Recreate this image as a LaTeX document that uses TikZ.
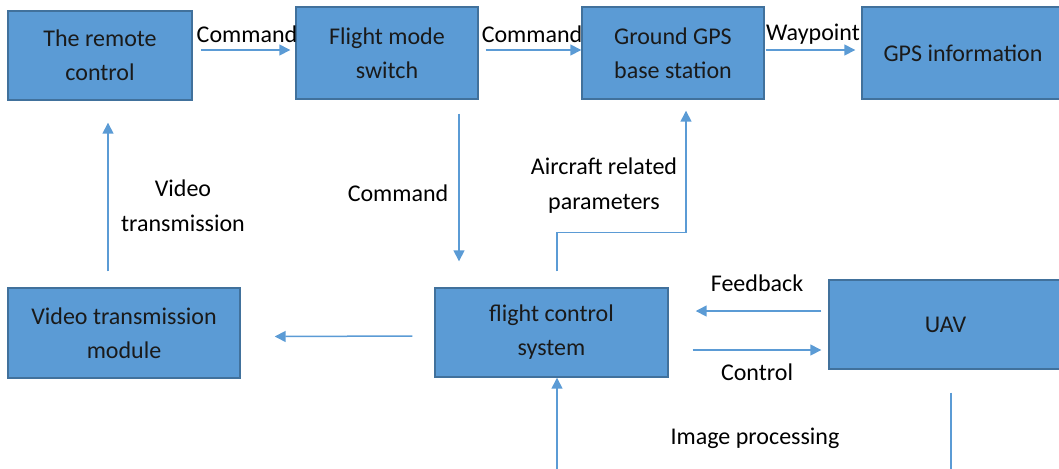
\documentclass[tikz,border=0pt]{standalone}
\usepackage{fontspec}
\setmainfont{Carlito}
\usetikzlibrary{arrows.meta,calc}
\definecolor{boxfill}{HTML}{5B9BD5}
\definecolor{boxline}{HTML}{41719C}
\definecolor{arrcol}{HTML}{5B9BD5}
\definecolor{boxtext}{HTML}{1A1A1A}
\tikzset{
  blk/.style={draw=boxline, fill=boxfill, line width=0.7pt, inner sep=0pt,
    align=center, text=boxtext, font=\fontsize{12}{17}\selectfont},
  arr/.style={draw=arrcol, line width=0.75pt, -{Triangle[length=5.5pt,width=5.5pt]}},
  plainln/.style={draw=arrcol, line width=0.75pt},
  lbl/.style={align=center, text=black, font=\fontsize{12}{17.5}\selectfont, inner sep=0pt}
}
\begin{document}
\begin{tikzpicture}[x=0.5pt,y=-0.5pt]
\useasboundingbox (0,0) rectangle (1059,468);
% boxes
\node[blk, minimum width=92pt, minimum height=44.5pt] (rc) at (100,55.5) {The remote\\control};
\node[blk, minimum width=91pt, minimum height=46pt] (fms) at (387,53) {Flight mode\\switch};
\node[blk, minimum width=91pt, minimum height=46pt] (gps) at (673,53) {Ground GPS\\base station};
\node[blk, minimum width=101pt, minimum height=46pt] (info) at (963,53) {GPS information};
\node[blk, minimum width=116pt, minimum height=45pt] (vtm) at (124,333) {Video transmission\\module};
\node[blk, minimum width=116.5pt, minimum height=44.5pt] (fcs) at (551.5,332.5) {flight control\\system};
\node[blk, minimum width=116.5pt, minimum height=44.5pt] (uav) at (945.5,324.5) {UAV};
% top row arrows
\draw[arr] ($(rc.east)+(8,-5.5)$) -- ($(fms.west)+(-5,-3)$);
\draw[arr] ($(fms.east)+(7,-3)$) -- ($(gps.west)+(0,-3)$);
\draw[arr] ($(gps.east)+(1,-3)$) -- ($(info.west)+(-6,-3)$);
\node[lbl] (l1) at (247,34) {Command};
\node[lbl] (l2) at (532,34) {Command};
\node[lbl] (l3) at (813,34) {Waypoint};
% vertical arrows
\draw[arr] ($(fms.south)+(72,14)$) -- ($(fcs.north)+(-92.5,-26)$);
\node[lbl] (l4) at (398,193) {Command};
\draw[arr] ($(vtm.north)+(-16,-16)$) -- ($(rc.south)+(8,22)$);
\node[lbl] (l5) at (183,206) {Video\\transmission};
\coordinate (bend1) at ($(fcs.north)+(5.5,-55)$);
\draw[arr] ($(fcs.north)+(5.5,-16)$) -- (bend1) -| ($(gps.south)+(13,11)$);
\node[lbl] (l6) at (604,186) {Aircraft related\\parameters};
% middle row
\draw[arr] ($(fcs.west)+(-22,3.5)$) -- ($(vtm.east)+(34,3.5)$);
\draw[arr] ($(uav.west)+(-7,-13.5)$) -- ($(fcs.east)+(27,-21.5)$);
\draw[arr] ($(fcs.east)+(24,17.5)$) -- ($(uav.west)+(-7,25.5)$);
\node[lbl] (l7) at (757,283) {Feedback};
\node[lbl] (l8) at (757,372) {Control};
% bottom
\coordinate (b1) at (557,472);
\coordinate (b2) at (951,472);
\draw[arr] (b1) -- (fcs.south -| b1);
\draw[plainln] ($(uav.south -| b2)+(0,23)$) -- (b2);
\node[lbl] (l9) at (755,438) {Image processing};
\end{tikzpicture}
\end{document}
